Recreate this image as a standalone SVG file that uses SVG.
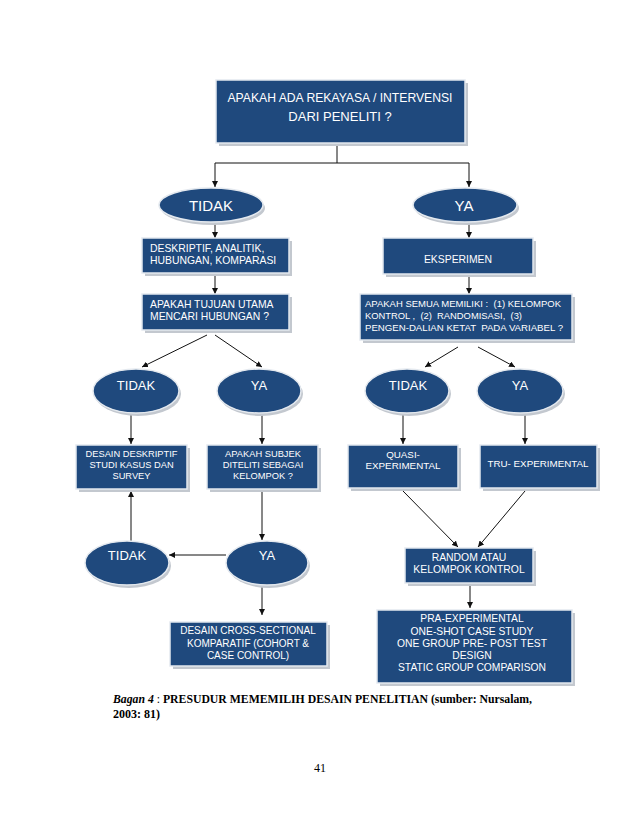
<svg xmlns="http://www.w3.org/2000/svg" width="638" height="826" viewBox="0 0 638 826">
<style>
.sh{fill:#c3c8cf}
.bx{fill:#1f497d;stroke:#e4e9ef;stroke-width:1.5}
.t{font-family:"Liberation Sans",Arial,sans-serif;fill:#ffffff}
.c{text-anchor:middle}
.ln{stroke:#111;stroke-width:1;fill:none}
.cap{font-family:"Liberation Serif","Times New Roman",serif;fill:#000;font-size:12px}
.pre{white-space:pre}
</style>
<defs>
<marker id="ah" viewBox="0 0 10 10" refX="10" refY="5" markerWidth="6" markerHeight="6" orient="auto" markerUnits="userSpaceOnUse">
<path d="M0,0 L10,5 L0,10 z" fill="#111"/>
</marker>
</defs>
<rect width="638" height="826" fill="#ffffff"/>

<g id="connectors" class="ln">
<line x1="337" y1="143" x2="337" y2="163"/>
<polyline points="215,163 469,163"/>
<line x1="215" y1="163" x2="215" y2="187" marker-end="url(#ah)"/>
<line x1="469" y1="163" x2="469" y2="187" marker-end="url(#ah)"/>
<line x1="215" y1="222" x2="215" y2="238" marker-end="url(#ah)"/>
<line x1="215" y1="274" x2="215" y2="294" marker-end="url(#ah)"/>
<line x1="469" y1="222" x2="469" y2="238" marker-end="url(#ah)"/>
<line x1="469" y1="275" x2="469" y2="294" marker-end="url(#ah)"/>
<line x1="207" y1="335" x2="142" y2="367" marker-end="url(#ah)"/>
<line x1="215" y1="335" x2="262" y2="367" marker-end="url(#ah)"/>
<line x1="458" y1="347" x2="425" y2="367" marker-end="url(#ah)"/>
<line x1="478" y1="347" x2="515" y2="367" marker-end="url(#ah)"/>
<line x1="131" y1="414" x2="131" y2="444" marker-end="url(#ah)"/>
<line x1="262" y1="414" x2="262" y2="444" marker-end="url(#ah)"/>
<line x1="403" y1="414" x2="403" y2="444" marker-end="url(#ah)"/>
<line x1="525" y1="414" x2="525" y2="444" marker-end="url(#ah)"/>
<line x1="262" y1="491" x2="262" y2="540" marker-end="url(#ah)"/>
<line x1="226" y1="555" x2="169" y2="555" marker-end="url(#ah)"/>
<line x1="131" y1="541" x2="131" y2="491" marker-end="url(#ah)"/>
<line x1="262" y1="586" x2="262" y2="615" marker-end="url(#ah)"/>
<line x1="403" y1="491" x2="458" y2="547" marker-end="url(#ah)"/>
<line x1="525" y1="491" x2="478" y2="547" marker-end="url(#ah)"/>
<line x1="470" y1="586" x2="470" y2="608" marker-end="url(#ah)"/>
</g>

<g id="n-top">
<rect class="sh" x="219" y="83" width="249" height="63"/>
<rect class="bx" x="216" y="80" width="249" height="63"/>
<text class="t c" x="340" y="102" font-size="13" textLength="225" lengthAdjust="spacingAndGlyphs">APAKAH ADA REKAYASA / INTERVENSI</text>
<text class="t c" x="340" y="121" font-size="13">DARI PENELITI ?</text>
</g>

<g id="n-tidak1">
<ellipse class="sh" cx="213" cy="208" rx="52" ry="17"/>
<ellipse class="bx" cx="211" cy="205" rx="52" ry="17"/>
<text class="t c" x="211" y="210.5" font-size="15">TIDAK</text>
</g>
<g id="n-ya1">
<ellipse class="sh" cx="467" cy="208" rx="52" ry="17"/>
<ellipse class="bx" cx="465" cy="205" rx="52" ry="17"/>
<text class="t c" x="464" y="210.5" font-size="15">YA</text>
</g>

<g id="n-deskriptif">
<rect class="sh" x="145" y="241" width="147" height="35"/>
<rect class="bx" x="142" y="238" width="147" height="35"/>
<text class="t" x="150" y="252" font-size="10.4">DESKRIPTIF, ANALITIK,</text>
<text class="t" x="150" y="264" font-size="10.4">HUBUNGAN, KOMPARASI</text>
</g>
<g id="n-tujuan">
<rect class="sh" x="145" y="297" width="147" height="36"/>
<rect class="bx" x="142" y="294" width="147" height="36"/>
<text class="t" x="150" y="308" font-size="10.4">APAKAH TUJUAN UTAMA</text>
<text class="t" x="150" y="320" font-size="10.4">MENCARI HUBUNGAN ?</text>
</g>

<g id="n-eksperimen">
<rect class="sh" x="386" y="241" width="150" height="36"/>
<rect class="bx" x="383" y="238" width="150" height="36"/>
<text class="t c" x="458" y="263" font-size="10.4">EKSPERIMEN</text>
</g>
<g id="n-semua">
<rect class="sh" x="363" y="297" width="212" height="46"/>
<rect class="bx" x="360" y="294" width="212" height="46"/>
<text class="t pre" xml:space="preserve" x="365" y="307" font-size="9.4" textLength="196" lengthAdjust="spacingAndGlyphs">APAKAH SEMUA MEMILIKI :  (1) KELOMPOK</text>
<text class="t pre" xml:space="preserve" x="365" y="319" font-size="9.4">KONTROL ,  (2)  RANDOMISASI,  (3)</text>
<text class="t pre" xml:space="preserve" x="365" y="330.5" font-size="9.4" textLength="198" lengthAdjust="spacingAndGlyphs">PENGEN-DALIAN KETAT  PADA VARIABEL ?</text>
</g>

<g id="n-tidak2">
<ellipse class="sh" cx="138" cy="394" rx="43" ry="22"/>
<ellipse class="bx" cx="136" cy="391" rx="43" ry="22"/>
<text class="t c" x="136" y="390" font-size="13">TIDAK</text>
</g>
<g id="n-ya2">
<ellipse class="sh" cx="261" cy="394" rx="42" ry="22"/>
<ellipse class="bx" cx="259" cy="391" rx="42" ry="22"/>
<text class="t c" x="259" y="390" font-size="13">YA</text>
</g>
<g id="n-tidak3">
<ellipse class="sh" cx="409" cy="394" rx="42" ry="22"/>
<ellipse class="bx" cx="407" cy="391" rx="42" ry="22"/>
<text class="t c" x="408" y="390" font-size="13">TIDAK</text>
</g>
<g id="n-ya3">
<ellipse class="sh" cx="522" cy="394" rx="43" ry="22"/>
<ellipse class="bx" cx="520" cy="391" rx="43" ry="22"/>
<text class="t c" x="520" y="390" font-size="13">YA</text>
</g>

<g id="n-desain-deskriptif">
<rect class="sh" x="79" y="448" width="111" height="44"/>
<rect class="bx" x="76" y="445" width="111" height="44"/>
<text class="t c" x="131.5" y="457" font-size="9.3">DESAIN DESKRIPTIF</text>
<text class="t c" x="131.5" y="468" font-size="9.3">STUDI KASUS DAN</text>
<text class="t c" x="131.5" y="479" font-size="9.3">SURVEY</text>
</g>
<g id="n-subjek">
<rect class="sh" x="210" y="448" width="111" height="44"/>
<rect class="bx" x="207" y="445" width="111" height="44"/>
<text class="t c" x="263" y="457" font-size="9.3">APAKAH SUBJEK</text>
<text class="t c" x="263" y="468" font-size="9.3">DITELITI SEBAGAI</text>
<text class="t c" x="263" y="479" font-size="9.3">KELOMPOK ?</text>
</g>
<g id="n-quasi">
<rect class="sh" x="351" y="448" width="110" height="43"/>
<rect class="bx" x="348" y="445" width="110" height="43"/>
<text class="t c" x="403" y="458" font-size="9.8">QUASI-</text>
<text class="t c" x="403" y="469" font-size="9.8">EXPERIMENTAL</text>
</g>
<g id="n-tru">
<rect class="sh" x="483" y="448" width="117" height="43"/>
<rect class="bx" x="480" y="445" width="117" height="43"/>
<text class="t c" x="538" y="467" font-size="9.8">TRU- EXPERIMENTAL</text>
</g>

<g id="n-tidak4">
<ellipse class="sh" cx="129" cy="566" rx="42" ry="22"/>
<ellipse class="bx" cx="127" cy="563" rx="42" ry="22"/>
<text class="t c" x="127" y="560" font-size="13">TIDAK</text>
</g>
<g id="n-ya4">
<ellipse class="sh" cx="269" cy="566" rx="41" ry="22"/>
<ellipse class="bx" cx="267" cy="563" rx="41" ry="22"/>
<text class="t c" x="267" y="560" font-size="13">YA</text>
</g>

<g id="n-random">
<rect class="sh" x="408" y="551" width="128" height="35"/>
<rect class="bx" x="405" y="548" width="128" height="35"/>
<text class="t c" x="469" y="561" font-size="10.4">RANDOM ATAU</text>
<text class="t c" x="469" y="573" font-size="10.4">KELOMPOK KONTROL</text>
</g>

<g id="n-cross">
<rect class="sh" x="173" y="625" width="157" height="44"/>
<rect class="bx" x="170" y="622" width="157" height="44"/>
<text class="t c" x="248" y="634" font-size="10">DESAIN CROSS-SECTIONAL</text>
<text class="t c" x="248" y="647" font-size="10">KOMPARATIF (COHORT &amp;</text>
<text class="t c" x="248" y="659" font-size="10">CASE CONTROL)</text>
</g>
<g id="n-pra">
<rect class="sh" x="380" y="613" width="195" height="73"/>
<rect class="bx" x="377" y="610" width="195" height="73"/>
<text class="t c" x="472" y="622" font-size="10.3">PRA-EXPERIMENTAL</text>
<text class="t c" x="472" y="635" font-size="10.3">ONE-SHOT CASE STUDY</text>
<text class="t c" x="472" y="647" font-size="10.3">ONE GROUP PRE- POST TEST</text>
<text class="t c" x="472" y="659" font-size="10.3">DESIGN</text>
<text class="t c" x="472" y="671" font-size="10.3">STATIC GROUP COMPARISON</text>
</g>

<g id="caption">
<text class="cap" x="113" y="703" font-weight="bold" textLength="419" lengthAdjust="spacingAndGlyphs"><tspan font-style="italic">Bagan 4</tspan><tspan font-weight="normal"> : </tspan>PRESUDUR MEMEMILIH DESAIN PENELITIAN (sumber: Nursalam,</text>
<text class="cap" x="113" y="718" font-weight="bold">2003: 81)</text>
<text class="cap" x="320" y="772" text-anchor="middle">41</text>
</g>
</svg>
